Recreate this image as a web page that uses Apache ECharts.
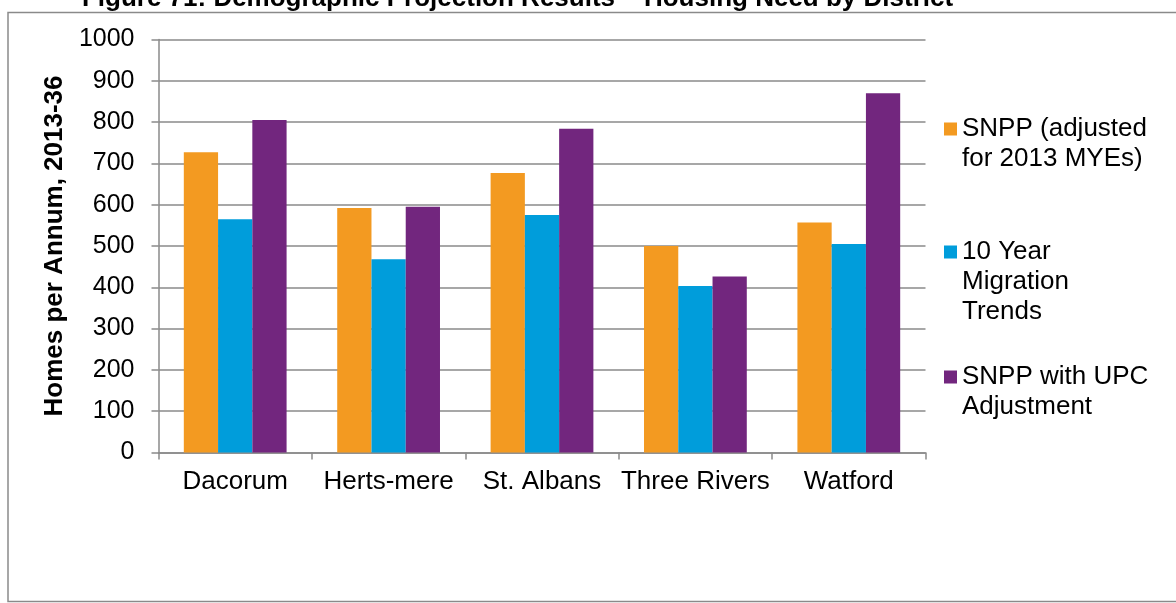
<!DOCTYPE html>
<html>
<head>
<meta charset="utf-8">
<script src="https://cdn.jsdelivr.net/npm/echarts@6/dist/echarts.min.js"></script>
<style>
html,body{margin:0;padding:0;background:#fff;}
#chart{width:1176px;height:603px;}
</style>
</head>
<body>
<div id="chart"></div>
<script>
var titleText = 'Figure 71: Demographic Projection Results \u2013 Housing Need by District';
var yAxisName = 'Homes per Annum, 2013-36';
var categories = ['Dacorum', 'Herts-mere', 'St. Albans', 'Three Rivers', 'Watford'];
var seriesNames = ['SNPP (adjusted\nfor 2013 MYEs)', '10 Year\nMigration\nTrends', 'SNPP with UPC\nAdjustment'];
var snppAdjusted = [727, 592, 677, 500, 557];
var tenYearMigration = [565, 468, 575, 403, 505];
var snppUpc = [805, 595, 784, 426, 870];
var yTicks = [0, 100, 200, 300, 400, 500, 600, 700, 800, 900, 1000];

var colors = ['#F39A21', '#009DDB', '#72267E'];
var FONT = '"Liberation Sans", Arial, sans-serif';
var GREY = '#8a8a8a';

var chart = echarts.init(document.getElementById('chart'), null, {renderer: 'canvas'});

// legend icon: square aligned with the first text line (text block centred on itemHeight)
function iconPath(h) {
  return 'path://M0,0h0.01v0.01h-0.01z M0,8.5h13v13h-13z M0,' + (h - 0.01) + 'h0.01v0.01h-0.01z';
}
function makeLegend(idx, top, lines) {
  var h = lines * 30;
  return {
    data: [{name: seriesNames[idx], icon: iconPath(h)}],
    orient: 'vertical',
    left: 944,
    top: top,
    padding: 0,
    itemWidth: 13,
    itemHeight: h,
    selectedMode: false,
    textStyle: {fontFamily: FONT, fontSize: 26, color: '#000', lineHeight: 30}
  };
}

var allData = [snppAdjusted, tenYearMigration, snppUpc];

var option = {
  animation: false,
  backgroundColor: '#fff',
  textStyle: {fontFamily: FONT},
  graphic: [
    {
      type: 'rect',
      shape: {x: 8, y: 12.5, width: 1300, height: 589},
      style: {fill: 'none', stroke: GREY, lineWidth: 1.5},
      silent: true
    },
    {
      type: 'text',
      x: 517.5,
      y: -1,
      style: {
        text: titleText,
        font: 'bold 26px "Liberation Sans", Arial, sans-serif',
        fill: '#000',
        align: 'center',
        verticalAlign: 'middle'
      },
      silent: true
    }
  ],
  legend: [
    makeLegend(0, 114, 2),
    makeLegend(1, 237, 3),
    makeLegend(2, 362, 2)
  ],
  grid: {left: 158.5, right: 250.5, top: 39.5, bottom: 150.5, containLabel: false},
  xAxis: {
    type: 'category',
    data: categories,
    axisLine: {show: true, lineStyle: {color: GREY, width: 1.5}},
    axisTick: {show: true, length: 7, lineStyle: {color: GREY, width: 1.5}},
    axisLabel: {fontFamily: FONT, fontSize: 26, color: '#000', margin: 16, interval: 0}
  },
  yAxis: {
    type: 'value',
    min: yTicks[0],
    max: yTicks[yTicks.length - 1],
    interval: yTicks[1] - yTicks[0],
    name: yAxisName,
    nameLocation: 'middle',
    nameGap: 75,
    nameTextStyle: {fontFamily: FONT, fontSize: 26, fontWeight: 'bold', color: '#000'},
    axisLine: {show: true, lineStyle: {color: GREY, width: 1.5}},
    axisTick: {show: true, length: 7, lineStyle: {color: GREY, width: 1.5}},
    axisLabel: {
      fontFamily: FONT, fontSize: 25, color: '#000', margin: 24,
      formatter: function (v) { return String(v); }
    },
    splitLine: {show: true, lineStyle: {color: GREY, width: 1.5}}
  },
  series: allData.map(function (d, i) {
    return {
      name: seriesNames[i],
      type: 'bar',
      data: d,
      barGap: '0%',
      barCategoryGap: '33%',
      itemStyle: {color: colors[i]}
    };
  })
};

chart.setOption(option);
</script>
</body>
</html>
